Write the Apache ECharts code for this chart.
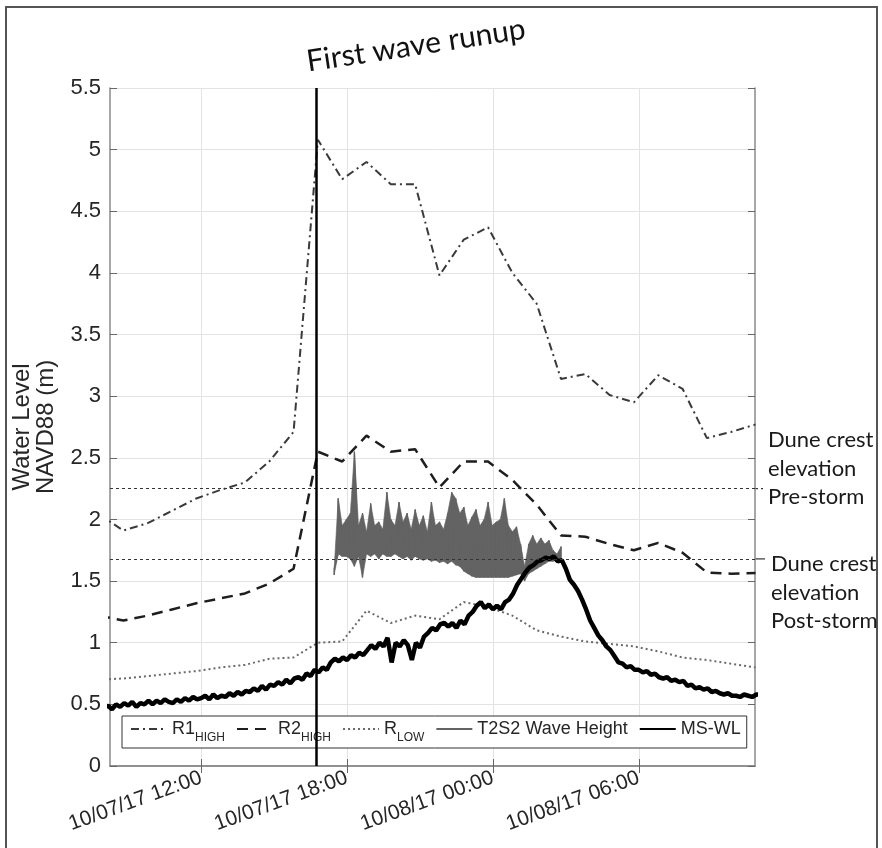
<!DOCTYPE html>
<html>
<head>
<meta charset="utf-8">
<title>Water level</title>
<script src="https://cdn.jsdelivr.net/npm/echarts@6/dist/echarts.min.js"></script>
<style>
  html, body { margin: 0; padding: 0; background: #fff; }
  #chart { width: 882px; height: 848px; }
</style>
</head>
<body>
<div id="chart"></div>
<script>
  // x values are hours since 10/07/17 00:00
  var xMin = 8.25, xMax = 34.78;
  var xTicks = [12, 18, 24, 30];
  var yMin = 0, yMax = 5.5, yStep = 0.5;

  var runupHour = 16.72;      // first wave runup
  var duneCrestPre = 2.25;
  var duneCrestPost = 1.68;

  // runup estimates, hourly, first sample 07:48
  var rStart = 7.8;
  var r1High = [2.04, 1.91, 1.97, 2.07, 2.17, 2.24, 2.30, 2.47, 2.71, 5.08, 4.76, 4.90, 4.72, 4.72,
                3.98, 4.27, 4.37, 4.00, 3.75, 3.14, 3.18, 3.01, 2.95, 3.17, 3.06, 2.66, 2.71, 2.77];
  var r2High = [1.22, 1.18, 1.22, 1.27, 1.32, 1.36, 1.40, 1.48, 1.60, 2.55, 2.47, 2.68, 2.55, 2.57,
                2.26, 2.47, 2.47, 2.32, 2.12, 1.87, 1.86, 1.80, 1.75, 1.81, 1.73, 1.57, 1.56, 1.565];
  var rLow   = [0.70, 0.71, 0.73, 0.75, 0.77, 0.80, 0.82, 0.87, 0.88, 1.00, 1.01, 1.26, 1.16, 1.22,
                1.19, 1.33, 1.29, 1.22, 1.10, 1.05, 1.01, 0.99, 0.97, 0.93, 0.88, 0.86, 0.83, 0.80];

  // MS-WL, every 10 min from 08:00 (one row per hour)
  var mswlStart = 8;
  var mswl = [
    0.47, 0.49, 0.46, 0.50, 0.48, 0.51,
    0.49, 0.52, 0.48, 0.51, 0.50, 0.53,
    0.50, 0.53, 0.51, 0.54, 0.52, 0.51,
    0.54, 0.52, 0.55, 0.53, 0.56, 0.54,
    0.55, 0.57, 0.54, 0.58, 0.55, 0.57,
    0.56, 0.59, 0.57, 0.60, 0.58, 0.61,
    0.60, 0.63, 0.61, 0.65, 0.62, 0.66,
    0.65, 0.68, 0.66, 0.70, 0.67, 0.71,
    0.72, 0.70, 0.75, 0.73, 0.78, 0.76,
    0.80, 0.78, 0.84, 0.87, 0.85, 0.88,
    0.86, 0.90, 0.88, 0.92, 0.90, 0.94,
    0.98, 0.95, 1.00, 0.97, 1.04, 0.84,
    1.00, 0.97, 1.02, 0.98, 0.86, 1.00,
    0.96, 1.05, 1.08, 1.12, 1.10, 1.15,
    1.16, 1.13, 1.16, 1.12, 1.18, 1.15,
    1.22, 1.25, 1.30, 1.33, 1.28, 1.31,
    1.27, 1.30, 1.27, 1.33, 1.35, 1.40,
    1.47, 1.52, 1.57, 1.61, 1.63, 1.66,
    1.67, 1.69, 1.68, 1.70, 1.66, 1.67,
    1.60, 1.51, 1.47, 1.42, 1.35, 1.27,
    1.18, 1.12, 1.06, 1.02, 0.97, 0.94,
    0.89, 0.84, 0.83, 0.80, 0.81, 0.78,
    0.78, 0.76, 0.77, 0.74, 0.75, 0.72,
    0.71, 0.72, 0.69, 0.70, 0.68, 0.69,
    0.65, 0.66, 0.63, 0.64, 0.62, 0.63,
    0.60, 0.61, 0.59, 0.58, 0.59, 0.57,
    0.57, 0.56, 0.58, 0.57, 0.56, 0.58,
    0.58, 0.59, 0.58, 0.60, 0.59, 0.60
  ];

  // T2S2 wave height, low/high envelope every 10 min from 17:28
  var waveStart = 17.47;
  var waveLow = [1.55, 1.72, 1.70, 1.70, 1.68, 1.62, 1.70, 1.53, 1.72, 1.70, 1.72, 1.68, 1.72, 1.70,
                 1.70, 1.72, 1.70, 1.68, 1.70, 1.67, 1.70, 1.68, 1.67, 1.68, 1.66, 1.67, 1.65, 1.66,
                 1.64, 1.66, 1.63, 1.62, 1.58, 1.56, 1.54, 1.53, 1.53, 1.53, 1.53, 1.53, 1.53, 1.53,
                 1.53, 1.53, 1.54, 1.55, 1.56, 1.50, 1.56, 1.58, 1.60, 1.62, 1.64, 1.66, 1.66, 1.67, 1.68];
  var waveHigh = [1.60, 2.17, 1.95, 2.00, 2.05, 2.55, 1.95, 2.05, 1.90, 2.13, 1.95, 1.98, 1.92, 2.22,
                  2.00, 1.95, 2.14, 1.98, 2.05, 1.92, 2.08, 1.95, 2.03, 1.90, 2.14, 1.95, 1.98, 1.92,
                  2.05, 2.22, 2.17, 2.05, 2.10, 1.95, 2.02, 2.08, 1.95, 2.00, 2.14, 1.95, 1.98, 2.00,
                  2.17, 1.95, 1.90, 1.94, 1.80, 1.62, 1.80, 1.87, 1.80, 1.85, 1.80, 1.83, 1.75, 1.72, 1.78];

  function hourly(arr, start) {
    return arr.map(function (v, i) { return [start + i, v]; });
  }

  var mswlData = mswl.map(function (v, i) { return [mswlStart + i / 6, v]; });

  // wave record: one item per sample (time, low, high)
  var waveData = waveLow.map(function (v, i) { return [waveStart + i / 6, v, waveHigh[i]]; });
  // the same samples as a low/high trace (gives the spikes and the legend line)
  var waveTrace = [];
  waveData.forEach(function (d) {
    waveTrace.push([d[0], d[1]]);
    waveTrace.push([d[0], d[2]]);
  });

  function xLabel(v) {
    var day = v < 24 ? '10/07/17' : '10/08/17';
    var h = v % 24;
    return day + ' ' + (h < 10 ? '0' : '') + h + ':00';
  }

  var axisGray = '#8a8a8a';
  var textColor = '#262626';
  var waveGray = '#636363';

  // filled band between the low and high envelope
  function renderWaveBand(params, api) {
    var i = params.dataIndex;
    if (i >= waveData.length - 1) return;
    var a = waveData[i], b = waveData[i + 1];
    return {
      type: 'polygon',
      shape: { points: [api.coord([a[0], a[1]]), api.coord([b[0], b[1]]),
                        api.coord([b[0], b[2]]), api.coord([a[0], a[2]])] },
      style: { fill: waveGray, stroke: waveGray, lineWidth: 0.6 }
    };
  }

  var chart = echarts.init(document.getElementById('chart'));

  chart.setOption({
    animation: false,
    backgroundColor: '#fff',
    grid: { left: 110, top: 88, right: 127, bottom: 82 },
    xAxis: [{
      type: 'value', min: xMin, max: xMax,
      axisLine: { lineStyle: { color: axisGray, width: 1.5 } },
      axisTick: { inside: true, length: 7, customValues: xTicks, lineStyle: { color: '#666' } },
      axisLabel: {
        customValues: xTicks, formatter: xLabel, rotate: 20, margin: 11,
        color: textColor, fontSize: 21, fontFamily: 'Liberation Sans'
      },
      splitLine: { show: true, lineStyle: { color: '#e3e3e3' } }
    }, {
      type: 'value', min: xMin, max: xMax, position: 'top',
      axisLine: { lineStyle: { color: axisGray, width: 1.5 } },
      axisTick: { inside: true, length: 7, customValues: xTicks, lineStyle: { color: '#666' } },
      axisLabel: { show: false },
      splitLine: { show: false }
    }],
    yAxis: [{
      type: 'value', min: yMin, max: yMax, interval: yStep,
      name: 'Water Level\nNAVD88 (m)', nameLocation: 'middle', nameGap: 52,
      nameTextStyle: { color: textColor, fontSize: 24, fontFamily: 'Liberation Sans', lineHeight: 24 },
      axisLine: { show: true, lineStyle: { color: axisGray, width: 1.5 } },
      axisTick: { show: true, inside: true, length: 7, lineStyle: { color: '#666' } },
      axisLabel: { color: textColor, fontSize: 22, fontFamily: 'Liberation Sans', margin: 9 },
      splitLine: { show: true, lineStyle: { color: '#e3e3e3' } }
    }, {
      type: 'value', min: yMin, max: yMax, interval: yStep, position: 'right',
      axisLine: { show: true, lineStyle: { color: axisGray, width: 1.5 } },
      axisTick: { show: true, inside: true, length: 7, lineStyle: { color: '#666' } },
      axisLabel: { show: false },
      splitLine: { show: false }
    }],
    legend: {
      left: 122, top: 716,
      padding: [4, 6, 4, 8],
      itemGap: 11, itemWidth: 36, itemHeight: 14,
      backgroundColor: '#fff',
      borderColor: '#333', borderWidth: 1, borderRadius: 0,
      itemStyle: { color: 'rgba(0,0,0,0)', borderWidth: 0 },
      data: ['R1', 'R2', 'RLOW', 'T2S2 Wave Height', 'MS-WL'],
      formatter: function (name) {
        if (name === 'R1') return '{n|R1}{s|HIGH}';
        if (name === 'R2') return '{n|R2}{s|HIGH}';
        if (name === 'RLOW') return '{n|R}{s|LOW}';
        return '{n|' + name + '}';
      },
      textStyle: {
        color: textColor, fontFamily: 'Liberation Sans',
        rich: {
          n: { fontSize: 18, lineHeight: 30, verticalAlign: 'middle', fontFamily: 'Liberation Sans', color: textColor },
          s: { fontSize: 12, lineHeight: 12, verticalAlign: 'bottom', fontFamily: 'Liberation Sans', color: textColor }
        }
      }
    },
    series: [{
      name: 'waveBand', type: 'custom', renderItem: renderWaveBand, data: waveData,
      encode: { x: 0, y: [1, 2] }, clip: true, silent: true, z: 2
    }, {
      name: 'T2S2 Wave Height', type: 'line', data: waveTrace, symbol: 'none',
      lineStyle: { color: waveGray, width: 1.3 }, itemStyle: { color: waveGray }, z: 2
    }, {
      name: 'RLOW', type: 'line', data: hourly(rLow, rStart), symbol: 'none',
      lineStyle: { color: '#6a6a6a', width: 2, type: [2, 3] }, itemStyle: { color: '#6a6a6a' }, z: 3
    }, {
      name: 'R2', type: 'line', data: hourly(r2High, rStart), symbol: 'none',
      lineStyle: { color: '#1e1e1e', width: 2.5, type: [11, 7] }, itemStyle: { color: '#1e1e1e' }, z: 3
    }, {
      name: 'R1', type: 'line', data: hourly(r1High, rStart), symbol: 'none',
      lineStyle: { color: '#3a3a3a', width: 2, type: [8, 4, 2, 4] }, itemStyle: { color: '#3a3a3a' }, z: 3
    }, {
      name: 'MS-WL', type: 'line', data: mswlData, symbol: 'none',
      lineStyle: { color: '#000', width: 4.5 }, itemStyle: { color: '#000' }, z: 4,
      markLine: {
        silent: true, symbol: 'none', label: { show: false },
        data: [
          { yAxis: duneCrestPre, lineStyle: { color: '#333', width: 1.2, type: [3, 3] } },
          { yAxis: duneCrestPost, lineStyle: { color: '#333', width: 1.2, type: [3, 3] } },
          { xAxis: runupHour, lineStyle: { color: '#000', width: 2.5, type: 'solid' } }
        ]
      }
    }]
  });

  // annotations placed from the data positions
  var xRun = chart.convertToPixel({ xAxisIndex: 0 }, runupHour);
  var yPre = chart.convertToPixel({ yAxisIndex: 0 }, duneCrestPre);
  var yPost = chart.convertToPixel({ yAxisIndex: 0 }, duneCrestPost);
  var xRight = chart.convertToPixel({ xAxisIndex: 0 }, xMax);
  var noteFont = { fontSize: 22, fontFamily: 'Lato', fill: '#1a1a1a', lineHeight: 28.5 };

  chart.setOption({
    graphic: [
      { type: 'rect', shape: { x: 6, y: 7, width: 871, height: 860 },
        style: { fill: 'none', stroke: '#555', lineWidth: 2 }, silent: true },
      { type: 'text', x: xRun - 9, y: 62, rotation: 0.15,
        style: { text: 'First wave runup', fontSize: 30, fontFamily: 'Lato', fill: '#111',
                 textAlign: 'left', textVerticalAlign: 'middle' } },
      { type: 'line', shape: { x1: xRight, y1: yPre, x2: xRight + 8, y2: yPre },
        style: { stroke: '#333', lineWidth: 1.2, lineDash: [3, 3] } },
      { type: 'line', shape: { x1: xRight, y1: yPost, x2: xRight + 10, y2: yPost },
        style: { stroke: '#333', lineWidth: 1.2 } },
      { type: 'text', x: xRight + 13, y: yPre - 20,
        style: Object.assign({ text: 'Dune crest\nelevation\nPre-storm', textAlign: 'left', textVerticalAlign: 'middle' }, noteFont) },
      { type: 'text', x: xRight + 16, y: yPost + 34,
        style: Object.assign({ text: 'Dune crest\nelevation\nPost-storm', textAlign: 'left', textVerticalAlign: 'middle' }, noteFont) }
    ]
  });
</script>
</body>
</html>
